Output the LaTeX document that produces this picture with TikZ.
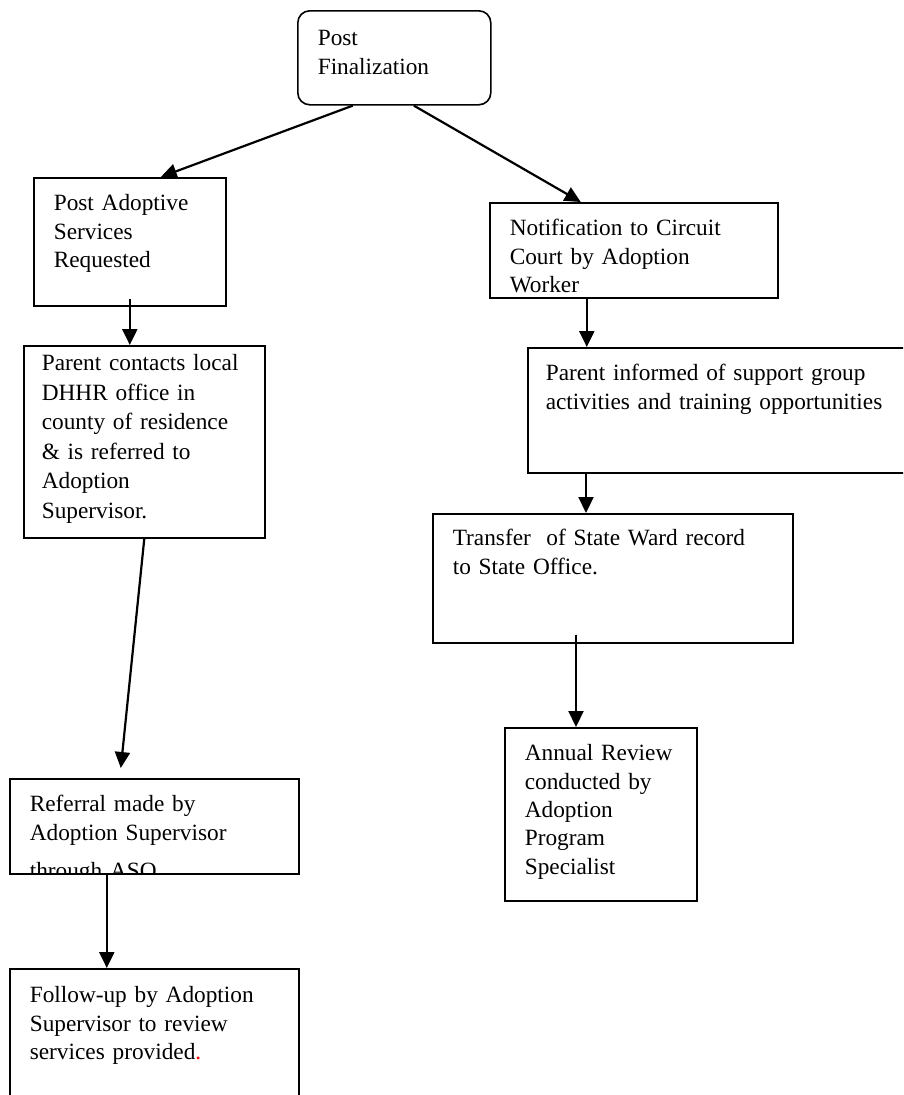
\documentclass[tikz,border=0pt]{standalone}
\usepackage{fontspec}
\setmainfont{Liberation Serif}
\usetikzlibrary{arrows.meta}

\begin{document}
\begin{tikzpicture}[
    x=1pt, y=-1pt,
    stepbox/.style={
        rectangle,
        draw,
        line width=1.6pt,
        anchor=north west,
        align=left,
        inner xsep=20pt,
        inner ysep=0pt,
        text height=33pt,
        font=\fontsize{23.3}{28.3}\selectfont
    },
    arrow/.style={
        -{Triangle[width=15pt,length=16pt]},
        line width=2.2pt
    }
]
\useasboundingbox (0,0) rectangle (903,1095);
\clip (0,0) rectangle (903,1095);

% Boxes
\node[stepbox, rounded corners=12pt, text width=153pt, text height=35pt, text depth=59pt] (final) at (297,10) {Post\\Finalization};

\node[stepbox, text width=152pt, text depth=95pt] (pasr) at (33,177) {Post Adoptive\\Services\\Requested};

\node[stepbox, inner xsep=18pt, text width=205pt, text height=25pt, text depth=167pt, font=\fontsize{23.3}{29.5}\selectfont] (pc) at (23,345) {Parent contacts local\\DHHR office in\\county of residence\\\& is referred to\\Adoption\\Supervisor.};

\node[stepbox, text width=249pt, text depth=62pt] (referral) at (9,778) {Referral made by\\Adoption Supervisor\\[10pt]through ASO};

\node[stepbox, text width=249pt, text height=34pt, text depth=106pt] (followup) at (9,968) {Follow-up by Adoption\\Supervisor to review\\services provided{\color{red}.}};

\node[stepbox, text width=248pt, text depth=62pt] (notif) at (489,202) {Notification to Circuit\\Court by Adoption\\Worker};

\node[stepbox, inner xsep=18pt, text width=364pt, text depth=92pt] (pinf) at (527,347) {Parent informed of support group\\activities and training opportunities};

\node[stepbox, text width=320pt, text height=32pt, text depth=97pt] (transfer) at (432,513) {Transfer\ \ of State Ward record\\to State Office.};

\node[stepbox, text width=152pt, text depth=140pt] (annual) at (504,727) {Annual Review\\conducted by\\Adoption\\Program\\Specialist};

% last line of the referral box runs past its frame
\fill[white] (referral.south west) rectangle ([yshift=-16pt]referral.south east);

% Arrows
\draw[arrow] ([xshift=-41.5pt]final.south) -- ([xshift=31pt]pasr.north);
\draw[arrow] ([xshift=19.5pt]final.south) -- ([xshift=-53pt]notif.north);
\draw[arrow] ([yshift=8pt]pasr.south) -- (pasr.south |- pc.north);
\draw[arrow] (pc.south) -- ([shift={(-33.5pt,10pt)}]referral.north);
\draw[arrow] ([xshift=-47.5pt]referral.south) -- ([xshift=-47.5pt]followup.north);
\draw[arrow] ([xshift=-47pt]notif.south) -- ([xshift=-47pt]notif.south |- pinf.north);
\draw[arrow] ([xshift=59pt]pinf.south west) -- ([xshift=59pt]pinf.south west |- transfer.north);
\draw[arrow] ([shift={(144pt,9pt)}]transfer.south west) -- ([xshift=144pt]transfer.south west |- annual.north);

\end{tikzpicture}
\end{document}
